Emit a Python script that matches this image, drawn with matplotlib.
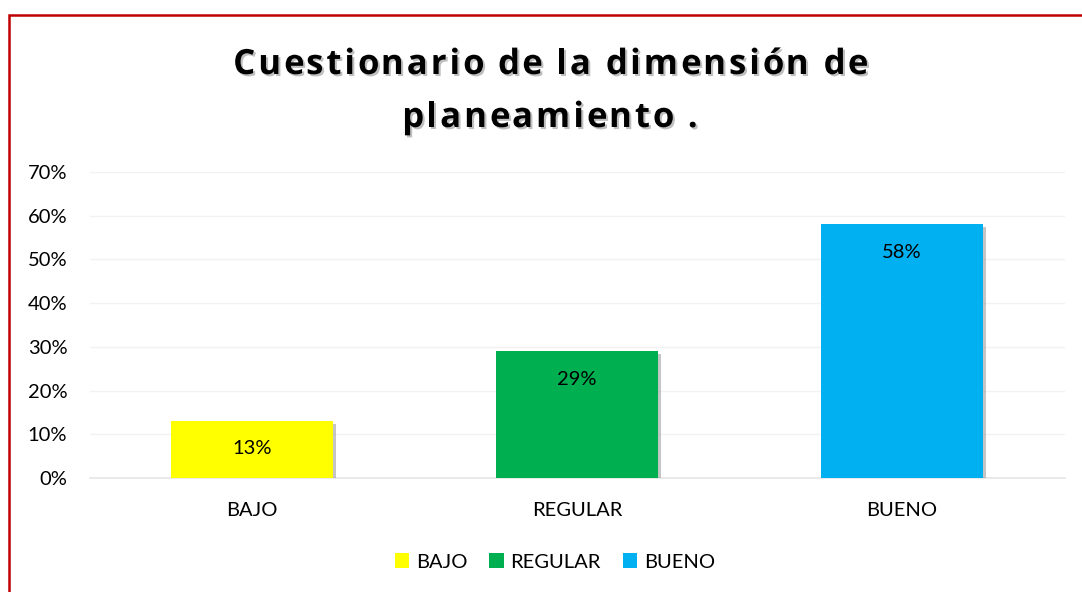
import matplotlib
matplotlib.use("Agg")
import matplotlib.pyplot as plt
import matplotlib.patheffects as pe
from matplotlib.patches import Rectangle, Patch

categories = ["BAJO", "REGULAR", "BUENO"]
values = [13, 29, 58]
colors = ["#FFFF00", "#00B050", "#00B0F0"]
y_ticks = [0, 10, 20, 30, 40, 50, 60, 70]
title_lines = ["Cuestionario de la dimensión de", "planeamiento ."]

plt.rcParams["font.family"] = ["Lato", "DejaVu Sans"]

W, H = 1082, 592
fig = plt.figure(figsize=(W / 100, H / 100), dpi=100)

# axes box in pixels: x 89.5..1064.5, y(0%)=478, y(70%)=172
ax = fig.add_axes([89.5 / W, 1 - 478 / H, 975 / W, 306 / H])
x = range(len(categories))
bars = ax.bar(x, values, width=0.5, color=colors, zorder=3)
for b in bars:
    b.set_path_effects([pe.SimplePatchShadow(offset=(2, -2), shadow_rgbFace="#7f7f7f", alpha=0.45),
                        pe.Normal()])

for xi, v in zip(x, values):
    ax.annotate(f"{v}%", (xi, v), xytext=(0, -20), textcoords="offset points",
                ha="center", va="center", fontsize=14.5, color="#000000", zorder=4)

ax.set_xlim(-0.5, len(categories) - 0.5)
ax.set_ylim(0, 70)
ax.set_yticks(y_ticks)
ax.set_yticklabels([f"{t}%" for t in y_ticks], fontsize=14.5)
ax.set_xticks(list(x))
ax.set_xticklabels(categories, fontsize=14.5)
ax.tick_params(axis="both", length=0, colors="#000000")
ax.tick_params(axis="y", pad=16)
ax.tick_params(axis="x", pad=17)
ax.grid(axis="y", color="#f2f2f2", linewidth=1, zorder=0)
for s in ["top", "right", "left"]:
    ax.spines[s].set_visible(False)
ax.spines["bottom"].set_color("#e6e6e6")
ax.spines["bottom"].set_linewidth(1.2)

# title with letter spacing: place each character separately
renderer = fig.canvas.get_renderer()
title_kw = dict(fontsize=25, fontweight="bold", family="Open Sans", va="center", ha="left",
                path_effects=[pe.withSimplePatchShadow(offset=(1.5, -1.5),
                                                       shadow_rgbFace="#808080", alpha=0.5)])


def char_width(ch):
    t = fig.text(0, 0, "x" + ch + "x", **title_kw)
    w1 = t.get_window_extent(renderer).width
    t.remove()
    t = fig.text(0, 0, "xx", **title_kw)
    w0 = t.get_window_extent(renderer).width
    t.remove()
    return w1 - w0


spacing = 3.0
for line, yc in zip(title_lines, [65, 118]):
    widths = [char_width(c) for c in line]
    total = sum(widths) + spacing * (len(line) - 1)
    xp = 550 - total / 2
    for c, w in zip(line, widths):
        if c != " ":
            fig.text(xp / W, 1 - yc / H, c, **title_kw)
        xp += w + spacing

handles = [Patch(facecolor=c, edgecolor="none") for c in colors]
fig.legend(handles, categories, loc="center", bbox_to_anchor=(555 / W, 1 - 562 / H),
           ncol=3, frameon=False, fontsize=14.5, handlelength=0.7, handleheight=0.7,
           handletextpad=0.35, columnspacing=1.1)

# red chart border (bottom/right edges fall outside the image)
fig.patches.append(Rectangle((8.5 / W, -0.1), 1.2, 1 - 14.5 / H + 0.1,
                             transform=fig.transFigure, fill=False,
                             edgecolor="#C00000", linewidth=1.8))

fig.savefig("out.png", dpi=100)
